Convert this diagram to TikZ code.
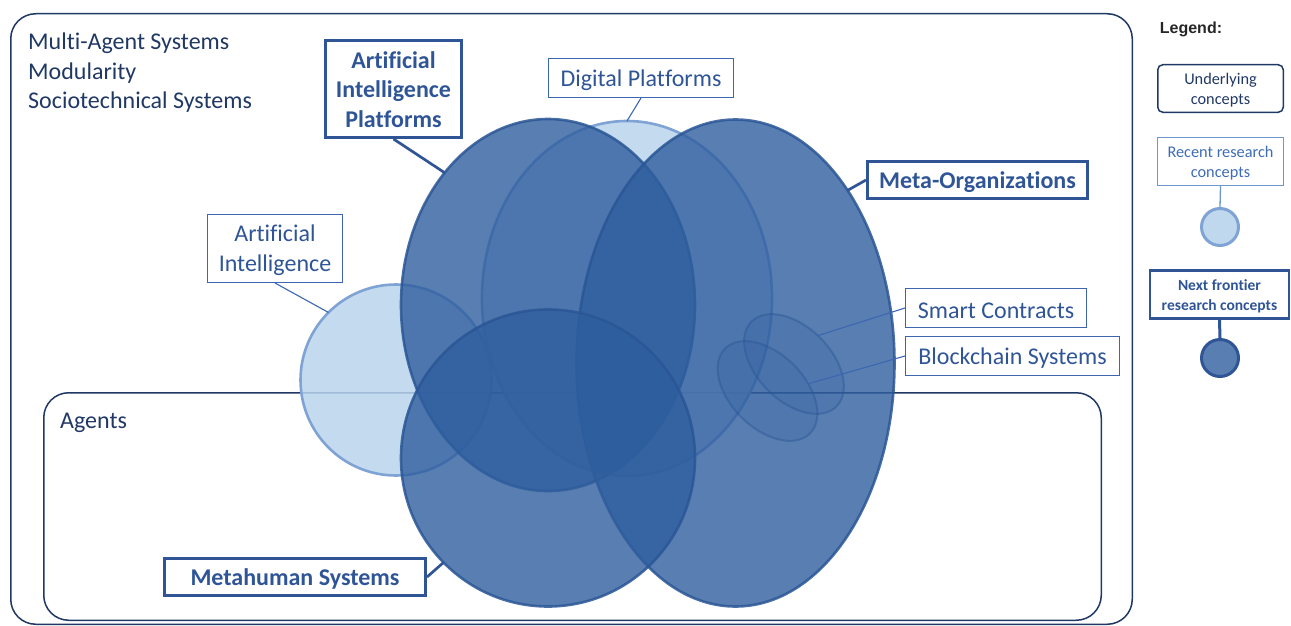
\documentclass[tikz,border=0pt]{standalone}
\usepackage{fontspec}
\setmainfont{Carlito}[Ligatures={TeX,NoCommon}]
\newfontfamily\legendfont{Liberation Sans}
\usetikzlibrary{shapes.geometric}
\definecolor{navy}{HTML}{203864}
\definecolor{lblue}{HTML}{2F5597}
\definecolor{thinb}{HTML}{3C67B0}
\definecolor{recentb}{HTML}{6F97CF}
\definecolor{recentt}{HTML}{3D6BB5}
\definecolor{darkfill}{HTML}{2F5E9E}
\definecolor{darkline}{HTML}{2A5696}
\definecolor{lightfill}{HTML}{B9D4EC}
\definecolor{lightline}{HTML}{7FA3D4}
\definecolor{legendgray}{HTML}{262626}
\newcommand{\liftbig}{\rule{0pt}{20.5pt}}
\newcommand{\liftmid}{\rule{0pt}{18pt}}
\newcommand{\liftsmall}{\rule{0pt}{14.5pt}}
\begin{document}
\begin{tikzpicture}[x=1pt,y=-1pt,
  bigfont/.style={font=\fontsize{24pt}{29.5pt}\selectfont},
  smallfont/.style={font=\fontsize{16.3pt}{19.5pt}\selectfont},
  underlying/.style={draw=navy, line width=1.5pt, rounded corners=25pt, inner sep=0pt},
  undertext/.style={bigfont, text=navy, inner sep=0pt},
  recentbox/.style={draw=thinb, line width=1.3pt, text=lblue, bigfont, align=center, inner sep=0pt},
  frontierbox/.style={draw=lblue, line width=2.7pt, text=lblue, font=\bfseries\fontsize{24pt}{29.5pt}\selectfont, align=center, inner sep=0pt},
  darkell/.style={ellipse, draw=darkline, line width=2.6pt, fill=darkfill, fill opacity=0.8, draw opacity=0.85, inner sep=0pt, outer sep=0pt},
  lightell/.style={ellipse, draw=lightline, line width=2.6pt, fill=lightfill, fill opacity=0.85, inner sep=0pt, outer sep=0pt},
  smallell/.style={ellipse, draw=darkline, line width=2pt, fill=darkfill, fill opacity=0.2, draw opacity=0.45, inner sep=0pt, outer sep=0pt},
  thinlead/.style={draw=thinb, line width=1.1pt},
  thicklead/.style={draw=lblue, line width=2.7pt}
]
\useasboundingbox (0,0) rectangle (1291,626);

% underlying concept containers
\node[underlying, minimum width=1121.5pt, minimum height=610.5pt] (outer) at (571.5,319) {};
\node[underlying, minimum width=1057.5pt, minimum height=227.5pt] (agentsbox) at (572.5,506.5) {};
\node[undertext, anchor=base west] (mas1) at (28,50) {Multi-Agent Systems};
\node[undertext, anchor=base west] (mas2) at (28,80) {Modularity};
\node[undertext, anchor=base west] (mas3) at (28,109) {Sociotechnical Systems};
\node[undertext, anchor=base west] (agents) at (60,428) {Agents};

% recent research concepts
\node[lightell, minimum width=191pt, minimum height=191pt] (ai) at (396,380) {};
\node[lightell, minimum width=290pt, minimum height=355pt] (dp) at (627,298.5) {};

% next frontier research concepts
\node[darkell, minimum width=294pt, minimum height=372pt] (aip) at (548,305) {};
\node[darkell, minimum width=318pt, minimum height=487pt] (meta) at (735.5,363) {};
\node[darkell, minimum width=294pt, minimum height=297pt] (mh) at (548,458) {};

% small ellipses
\node[smallell, rotate=-45, minimum width=120pt, minimum height=74pt] (sc) at (794,364) {};
\node[smallell, rotate=-45, minimum width=120pt, minimum height=74pt] (bc) at (767.5,391) {};

% labels
\node[frontierbox, minimum width=136.3pt, minimum height=97.3pt] (aiplabel) at (393.5,89) {\liftmid Artificial\\Intelligence\\Platforms};
\node[recentbox, minimum width=184.7pt, minimum height=38.7pt] (dplabel) at (641,78) {\liftbig Digital Platforms};
\node[frontierbox, minimum width=220.3pt, minimum height=37.3pt] (metalabel) at (977.5,180) {\liftbig Meta-Organizations};
\node[recentbox, minimum width=134.7pt, minimum height=67.7pt] (ailabel) at (275,248.5) {\liftbig Artificial\\Intelligence};
\node[recentbox, minimum width=180.7pt, minimum height=38.7pt] (sclabel) at (996,308) {\liftbig Smart Contracts};
\node[recentbox, minimum width=213.7pt, minimum height=38.7pt] (bclabel) at (1012.5,356) {\liftbig Blockchain Systems};
\node[frontierbox, minimum width=261.3pt, minimum height=37.3pt] (mhlabel) at (295,577) {\liftbig Metahuman Systems};

% leaders
\draw[thicklead] (aiplabel.south) -- (aip.128.5);
\draw[thinlead] (dplabel.south) -- (dp.north);
\draw[thicklead] (metalabel.west) -- (meta.57);
\draw[thinlead] (ailabel.south) -- (ai.135);
\draw[thinlead] (sclabel.west) -- (sc.95);
\draw[thinlead] (bclabel.west) -- (bc.55);
\draw[thicklead] (mhlabel.east) -- (mh.225.5);

% legend
\node[font=\legendfont\bfseries\fontsize{16pt}{19pt}\selectfont, text=legendgray, inner sep=0pt] (legendtitle) at (1191,29) {Legend:};
\node[draw=navy, line width=1.5pt, rounded corners=5pt, smallfont, text=navy, align=center, inner sep=0pt, minimum width=125.5pt, minimum height=47.5pt] (legunder) at (1220.5,88.5) {\liftsmall Underlying\\concepts};
\node[draw=recentb, line width=1.3pt, smallfont, text=recentt, align=center, inner sep=0pt, minimum width=125.7pt, minimum height=47.7pt] (legrecent) at (1220.5,161.5) {\liftsmall Recent research\\concepts};
\node[circle, draw=lightline, line width=3pt, fill=lightfill!90!white, inner sep=0pt, minimum size=37pt] (legrecentc) at (1220,227) {};
\draw[draw=recentb, line width=1.3pt] (legrecent.south) -- (legrecentc.north);
\node[draw=lblue, line width=2.7pt, font=\bfseries\fontsize{15.5pt}{19.5pt}\selectfont, text=lblue, align=center, inner sep=0pt, minimum width=139pt, minimum height=48.5pt] (legfront) at (1219.5,294.5) {\liftsmall Next frontier\\research concepts};
\node[circle, draw=lblue, line width=3pt, fill=darkfill!80!white, inner sep=0pt, minimum size=37pt] (legfrontc) at (1220,358) {};
\draw[draw=lblue, line width=3pt] (legfront.south) -- (legfrontc.north);
\end{tikzpicture}
\end{document}
